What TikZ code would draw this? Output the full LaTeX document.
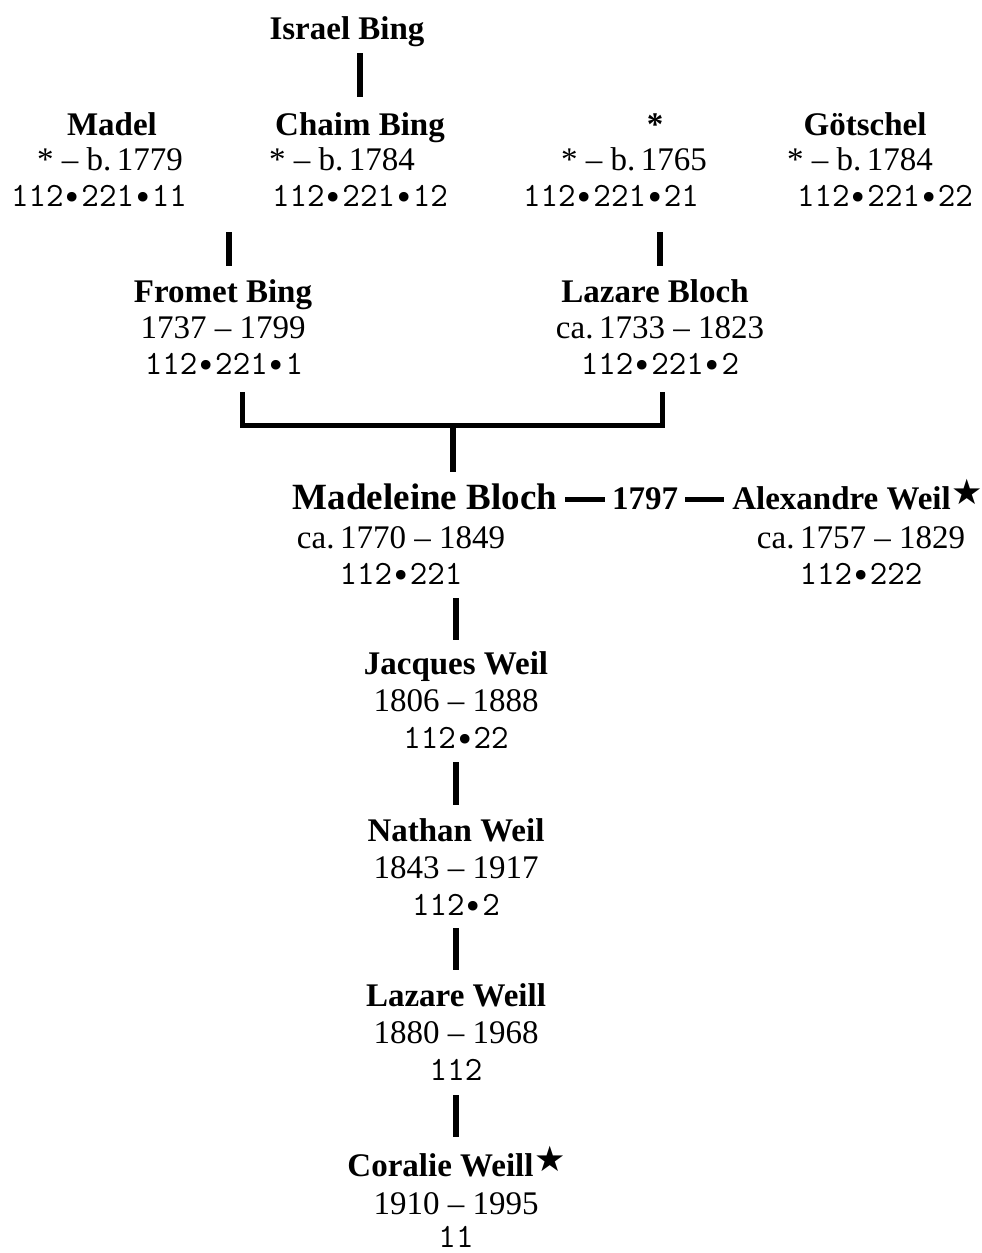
\documentclass[tikz,border=0pt]{standalone}
\usepackage{fontspec}
\setmainfont{Liberation Serif}
\newfontfamily\starfont{DejaVu Sans}
\newcommand\mystar{\kern1pt\raisebox{5pt}{\makebox[20pt][l]{\starfont\fontsize{35}{35}\selectfont ★}}}
\newcommand\bul{\makebox[0.525em]{\raisebox{-3pt}{\starfont\fontsize{33}{33}\selectfont •}}}
\begin{document}
\begin{tikzpicture}[x=1pt,y=-1pt,
 nm/.style={font=\bfseries\fontsize{33}{36}\selectfont, inner sep=0pt, anchor=base, text height=23pt, text depth=7pt},
 dt/.style={font=\fontsize{33}{36}\selectfont, inner sep=0pt, anchor=base, text height=23pt, text depth=7pt},
 cd/.style={font=\ttfamily\fontsize{34}{36}\selectfont, inner sep=0pt, anchor=base, text height=21pt, text depth=6pt},
 vl/.style={line width=6pt},
 bl/.style={line width=5pt},
]
\useasboundingbox (0,0) rectangle (982,1253);
% top
\node[nm] (israel) at (347,39) {Israel Bing};
% row 2
\node[nm] (madeln) at (112,135) {Madel};
\node[dt] (madeld) at (110,170) {* – b.\,1779};
\node[cd] (madelc) at (99,206) {112\bul221\bul11};
\node[nm] (chaimn) at (360,135) {Chaim Bing};
\node[dt] (chaimd) at (342,170) {* – b.\,1784};
\node[cd] (chaimc) at (360,206) {112\bul221\bul12};
\node[nm] (anonn) at (655,135) {*};
\node[dt] (anond) at (634,170) {* – b.\,1765};
\node[cd] (anonc) at (611,206) {112\bul221\bul21};
\node[nm] (gotn) at (865,135) {Götschel};
\node[dt] (gotd) at (860,170) {* – b.\,1784};
\node[cd] (gotc) at (885,206) {112\bul221\bul22};
% row 3
\node[nm] (frometn) at (223,302) {Fromet Bing};
\node[dt] (frometd) at (223,338) {1737 – 1799};
\node[cd] (frometc) at (224,374) {112\bul221\bul1};
\node[nm] (lazbn) at (655,302) {Lazare Bloch};
\node[dt] (lazbd) at (660,338) {ca.\,1733 – 1823};
\node[cd] (lazbc) at (660,374) {112\bul221\bul2};
% Madeleine row
\node[nm, font=\bfseries\fontsize{37}{40}\selectfont, text height=26pt] (madn) at (425,509) {Madeleine Bloch};
\node[nm] (yr) at (645,509) {1797};
\node[nm] (alexn) at (852,509) {Alexandre Weil\mystar};
\node[dt] (madd) at (401,548) {ca.\,1770 – 1849};
\node[cd] (madc) at (401,584) {112\bul221};
\node[dt] (alexd) at (861,548) {ca.\,1757 – 1829};
\node[cd] (alexc) at (861,584) {112\bul222};
% lower chain
\node[nm] (jacn) at (456,674) {Jacques Weil};
\node[dt] (jacd) at (456,711) {1806 – 1888};
\node[cd] (jacc) at (456,748) {112\bul22};
\node[nm] (natn) at (456,841) {Nathan Weil};
\node[dt] (natd) at (456,878) {1843 – 1917};
\node[cd] (natc) at (456,915) {112\bul2};
\node[nm] (lazwn) at (456,1006) {Lazare Weill};
\node[dt] (lazwd) at (456,1043) {1880 – 1968};
\node[cd] (lazwc) at (456,1080) {112};
\node[nm] (corn) at (451,1176) {Coralie Weill\mystar};
\node[dt] (cord) at (456,1214) {1910 – 1995};
\node[cd, text depth=0pt] (corc) at (456,1247) {11};
% connectors
\draw[vl, shorten <=7pt, shorten >=15pt] (israel.south -| chaimn.north) -- (chaimn.north);
\draw[vl, shorten <=20pt, shorten >=13pt] ([xshift=6pt]madelc.south -| frometn.north) -- ([xshift=6pt]frometn.north);
\draw[vl, shorten <=20pt, shorten >=13pt] ([xshift=5pt]anonc.south -| lazbn.north) -- ([xshift=5pt]lazbn.north);
\draw[bl] ([xshift=18pt,yshift=-12pt]frometc.south) -- ++(0,33) -| ([xshift=2pt,yshift=-12pt]lazbc.south);
\coordinate (join) at (453,425);
\draw[vl, shorten >=11pt] (join) -- (madn.north -| join);
\draw[bl, shorten <=8pt, shorten >=7pt] (madn.east) -- (madn.east -| yr.west);
\draw[bl, shorten <=7pt, shorten >=8pt] (madn.east -| yr.east) -- (madn.east -| alexn.west);
\draw[vl, shorten <=8pt, shorten >=11pt] (madc.south -| jacn.north) -- (jacn.north);
\draw[vl, shorten <=8pt, shorten >=13pt] (jacc.south) -- (natn.north);
\draw[vl, shorten <=7pt, shorten >=13pt] (natc.south) -- (lazwn.north);
\draw[vl, shorten <=9pt, shorten >=16pt] (lazwc.south) -- (corn.north -| lazwc.south);
\end{tikzpicture}
\end{document}
